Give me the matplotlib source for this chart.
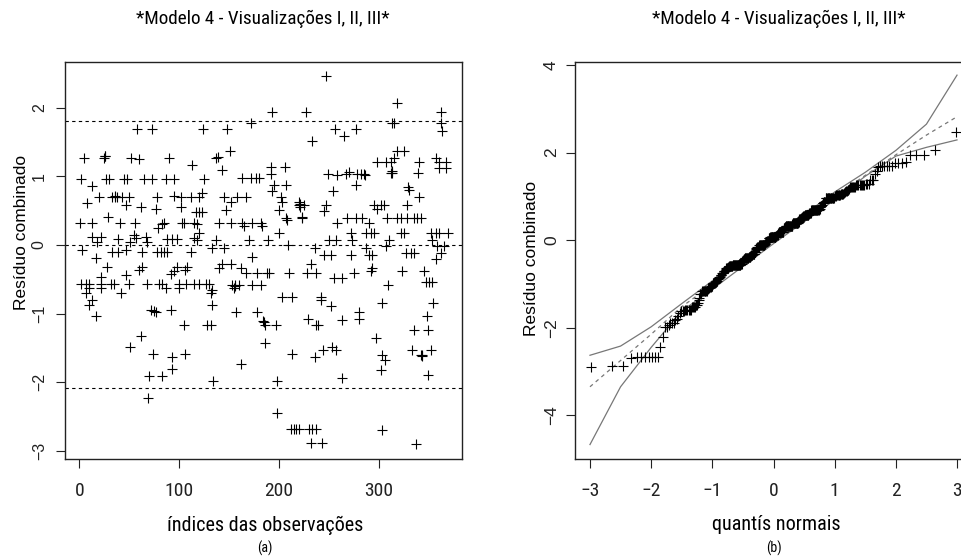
import os
import matplotlib
matplotlib.use('Agg')
import matplotlib.pyplot as plt
from matplotlib import font_manager
from matplotlib.font_manager import FontProperties
from statistics import NormalDist

# residuos combinados (indice da observacao, residuo)
obs_index = [
    58, 73, 124, 5, 25, 26, 52, 60, 90, 137, 113,
    2, 13, 27, 30, 45, 48, 65, 73, 87, 95, 125,
    8, 20, 33, 36, 38, 43, 50, 78, 95, 102, 112, 120, 123,
    47, 62, 77, 102, 117, 120, 123, 29,
    1, 13, 41, 56, 83, 85, 103, 105, 115, 79,
    13, 22, 18, 39, 51, 55, 57, 67, 68, 88, 93, 98, 115, 120, 118,
    3, 33, 39, 47, 63, 78, 82, 85, 88, 112, 17,
    28, 63, 108, 98, 60, 95, 106, 47, 22, 92,
    2, 7, 10, 22, 32, 35, 68, 80, 83, 100, 107, 115, 120, 127, 130,
    10, 22, 87, 100, 7, 42, 132, 13, 10, 133,
    72, 75, 77, 92, 17, 105, 128, 132, 62, 51,
    74, 106, 93, 93, 70, 83, 134, 69,
    247, 193, 227, 172, 148, 256, 265, 277, 233, 151, 139, 143, 192, 206, 298,
    192, 249, 258, 267, 270, 278, 282, 285, 163, 172, 177, 180,
    195, 207, 277, 193, 254, 145, 158, 167, 202, 152, 203,
    220, 220, 221, 225, 247, 295, 147, 200, 245,
    207, 208, 223, 268, 277, 283, 140, 152, 163, 173, 182, 258, 290, 165, 183,
    200, 272, 287, 292, 137, 170, 189, 250, 257, 273, 209,
    133, 145, 236, 287, 245, 252, 272, 290, 293, 173,
    232, 143, 152, 140, 162, 293,
    167, 178, 188, 190, 210, 228, 237, 275, 292, 255, 263,
    153, 156, 160, 173, 182, 155, 133, 203, 213, 242, 242, 252,
    157, 178, 280, 229, 280, 263, 184, 185, 186, 197, 237, 239,
    297, 186, 253, 244, 257, 213, 236, 162, 263, 198, 198,
    212, 215, 217, 220, 230, 233, 237, 232, 243,
    318, 362, 313, 315, 362, 363, 318, 325, 315, 357,
    307, 312, 340, 360, 367, 360, 367, 312, 313, 339,
    329, 330, 340, 302, 305, 328, 298,
    308, 318, 322, 328, 335, 338, 342,
    295, 322, 325, 352, 357, 360, 369, 310, 353,
    307, 358, 365, 327, 332, 335, 362, 357,
    323, 345, 347, 350, 353, 309, 303, 354, 348, 335, 349,
    333, 352, 303, 342, 343, 306, 302, 349, 303, 337,
    26, 36, 313, 221, 156, 223, 286, 50, 118, 343,
]
residuo = [
    1.69, 1.69, 1.69, 1.27, 1.27, 1.29, 1.27, 1.25, 1.27, 1.27, 1.16,
    0.96, 0.86, 0.96, 0.96, 0.96, 0.96, 0.96, 0.96, 0.96, 0.96, 0.96,
    0.61, 0.70, 0.70, 0.70, 0.70, 0.70, 0.70, 0.70, 0.72, 0.70, 0.70, 0.70, 0.75,
    0.58, 0.55, 0.53, 0.55, 0.48, 0.48, 0.48, 0.41,
    0.32, 0.32, 0.32, 0.32, 0.30, 0.32, 0.32, 0.32, 0.32, 0.25,
    0.12, 0.12, 0.05, 0.08, 0.05, 0.15, 0.10, 0.12, 0.05, 0.08, 0.08, 0.08, 0.10, 0.17, 0.07,
    -0.08, -0.10, -0.10, -0.08, -0.10, -0.10, -0.10, -0.10, -0.10, -0.10, -0.19,
    -0.32, -0.32, -0.32, -0.32, -0.36, -0.38, -0.36, -0.44, -0.46, -0.42,
    -0.57, -0.57, -0.57, -0.57, -0.57, -0.57, -0.57, -0.57, -0.57, -0.57, -0.57, -0.57, -0.57, -0.57, -0.57,
    -0.63, -0.63, -0.63, -0.63, -0.70, -0.70, -0.70, -0.80, -0.87, -0.87,
    -0.94, -0.96, -0.98, -0.94, -1.04, -1.16, -1.16, -1.16, -1.32, -1.49,
    -1.59, -1.59, -1.63, -1.80, -1.90, -1.90, -1.98, -2.22,
    2.46, 1.94, 1.94, 1.77, 1.69, 1.69, 1.58, 1.69, 1.52, 1.37, 1.28, 1.09, 1.14, 1.14, 1.21,
    1.04, 1.04, 1.02, 1.04, 1.06, 1.04, 1.04, 1.04, 0.97, 0.97, 0.97, 0.97,
    0.87, 0.87, 0.87, 0.78, 0.78, 0.70, 0.70, 0.70, 0.70, 0.63, 0.63,
    0.58, 0.62, 0.60, 0.58, 0.58, 0.58, 0.51, 0.51, 0.49,
    0.39, 0.36, 0.39, 0.39, 0.39, 0.39, 0.32, 0.32, 0.32, 0.32, 0.32, 0.32, 0.32, 0.27, 0.27,
    0.18, 0.18, 0.18, 0.18, 0.07, 0.07, 0.07, 0.07, 0.07, 0.07, 0.00,
    -0.05, -0.05, -0.05, -0.05, -0.15, -0.15, -0.15, -0.15, -0.15, -0.18,
    -0.28, -0.28, -0.28, -0.34, -0.34, -0.34,
    -0.41, -0.41, -0.41, -0.41, -0.41, -0.41, -0.41, -0.41, -0.38, -0.48, -0.48,
    -0.58, -0.58, -0.58, -0.58, -0.58, -0.62, -0.66, -0.75, -0.75, -0.75, -0.80, -0.89,
    -0.97, -0.97, -0.97, -1.07, -1.07, -1.09, -1.10, -1.12, -1.16, -1.16, -1.16, -1.16,
    -1.36, -1.43, -1.48, -1.53, -1.53, -1.59, -1.63, -1.73, -1.94, -1.98, -2.45,
    -2.68, -2.68, -2.68, -2.68, -2.68, -2.68, -2.68, -2.88, -2.88,
    2.07, 1.94, 1.77, 1.77, 1.78, 1.66, 1.37, 1.37, 1.27, 1.27,
    1.21, 1.21, 1.21, 1.21, 1.21, 1.12, 1.12, 1.05, 1.05, 1.05,
    0.85, 0.80, 0.70, 0.58, 0.58, 0.58, 0.53,
    0.40, 0.40, 0.40, 0.40, 0.40, 0.40, 0.40,
    0.18, 0.18, 0.18, 0.18, 0.18, 0.18, 0.18, 0.07, 0.07,
    -0.02, -0.02, -0.02, -0.12, -0.12, -0.12, -0.12, -0.20,
    -0.38, -0.38, -0.54, -0.54, -0.54, -0.58, -0.84, -0.84, -1.04, -1.24, -1.24,
    -1.53, -1.53, -1.60, -1.60, -1.60, -1.67, -1.82, -1.89, -2.69, -2.89,
    1.29, 0.72, 1.07, 0.56, -0.60, 0.41, 1.02, -0.57, 0.30, -1.62,
]
# linhas de referencia do painel (a)
limites = [1.80, 0.0, -2.08]

# envelope simulado do painel (b)
q_env = [-3, -2.5, -2, -1.5, -1, -0.5, 0, 0.5, 1, 1.5, 2, 2.5, 3]
env_inf = [-4.67, -3.35, -2.45, -1.62, -1.12, -0.60, -0.08, 0.42, 0.92, 1.46, 1.92, 2.12, 2.29]
env_med = [-3.35, -2.75, -2.15, -1.52, -1.02, -0.50, 0.0, 0.50, 1.0, 1.48, 1.95, 2.40, 2.82]
env_sup = [-2.63, -2.42, -1.98, -1.45, -0.93, -0.43, 0.08, 0.58, 1.10, 1.55, 2.05, 2.65, 3.77]

titulo = '*Modelo 4 - Visualizações I, II, III*'

# fonte estreita (o original parece Arial Narrow); senao Liberation Sans
preferidas = ['LiberationSansNarrow-Regular.ttf', 'RobotoCondensed-Regular.ttf',
              'DejaVuSansCondensed.ttf', 'OpenSans_Condensed-Regular.ttf']
arquivos = {os.path.basename(p): p for p in font_manager.findSystemFonts()}
narrow_file = next((arquivos[a] for a in preferidas if a in arquivos), None)

def fp_narrow(size):
    if narrow_file:
        return FontProperties(fname=narrow_file, size=size)
    return FontProperties(family='Liberation Sans', size=size)

def fp_regular(size):
    return FontProperties(family='Liberation Sans', size=size)

fig = plt.figure(figsize=(9.61, 5.56), dpi=100)
W, H = 961, 556

def estilo(ax, ysize, ypad):
    for s in ax.spines.values():
        s.set_linewidth(1.0)
        s.set_color('#222222')
    ax.tick_params(direction='out', length=6.5, width=0.8, colors='#222222')
    ax.tick_params(axis='x', pad=10)
    ax.tick_params(axis='y', pad=ypad)
    for lab in ax.get_xticklabels():
        lab.set_fontproperties(fp_narrow(14))
    for lab in ax.get_yticklabels():
        lab.set_fontproperties(fp_regular(ysize))
        lab.set_rotation(90)
        lab.set_va('center')

# painel (a): residuos vs indices
ax1 = fig.add_axes([65.3 / W, 97 / H, 397 / W, 397.3 / H])
ax1.plot(obs_index, residuo, 'k+', markersize=7, markeredgewidth=0.8)
for h in limites:
    ax1.axhline(h, color='black', linestyle=(0, (3, 3)), linewidth=0.8)
ax1.set_xlim(-14.2, 383.6)
ax1.set_ylim(-3.115, 2.668)
ax1.set_xticks([0, 100, 200, 300])
ax1.set_yticks([-3, -2, -1, 0, 1, 2])
estilo(ax1, 11.5, 6.8)
ax1.set_ylabel('Resíduo combinado', fontproperties=fp_regular(12.5))
ax1.yaxis.set_label_coords(-0.092, 0.571)

# painel (b): grafico normal de probabilidades com envelope
n = len(residuo)
quantis = [NormalDist().inv_cdf((i - 0.5) / n) for i in range(1, n + 1)]
ax2 = fig.add_axes([575 / W, 97 / H, 397 / W, 397 / H])
ax2.plot(q_env, env_inf, color='#777777', linewidth=0.9)
ax2.plot(q_env, env_sup, color='#777777', linewidth=0.9)
ax2.plot(q_env, env_med, color='#777777', linewidth=0.9, linestyle=(0, (3, 3)))
ax2.plot(quantis, sorted(residuo), 'k+', markersize=7, markeredgewidth=0.8)
ax2.set_xlim(-3.245, 3.245)
ax2.set_ylim(-5.0, 4.07)
ax2.set_xticks([-3, -2, -1, 0, 1, 2, 3])
ax2.set_yticks([-4, -2, 0, 2, 4])
estilo(ax2, 12.5, 5)
ax2.set_ylabel('Resíduo combinado', fontproperties=fp_regular(12.5))
ax2.yaxis.set_label_coords(-0.0914, 0.504)

# textos
fig.text(263 / W, 1 - 19 / H, titulo, ha='center', va='center', fontproperties=fp_narrow(13.8))
fig.text(779 / W, 1 - 19 / H, titulo, ha='center', va='center', fontproperties=fp_narrow(13.8))
fig.text(265 / W, 1 - 525 / H, 'índices das observações', ha='center', va='center',
         fontproperties=fp_narrow(14.5))
fig.text(776 / W, 1 - 525 / H, 'quantís normais', ha='center', va='center',
         fontproperties=fp_narrow(14.5))
fig.text(265 / W, 1 - 548 / H, '(a)', ha='center', va='center', fontproperties=fp_narrow(10))
fig.text(774 / W, 1 - 548 / H, '(b)', ha='center', va='center', fontproperties=fp_narrow(10))

fig.savefig('out.png', dpi=100)
